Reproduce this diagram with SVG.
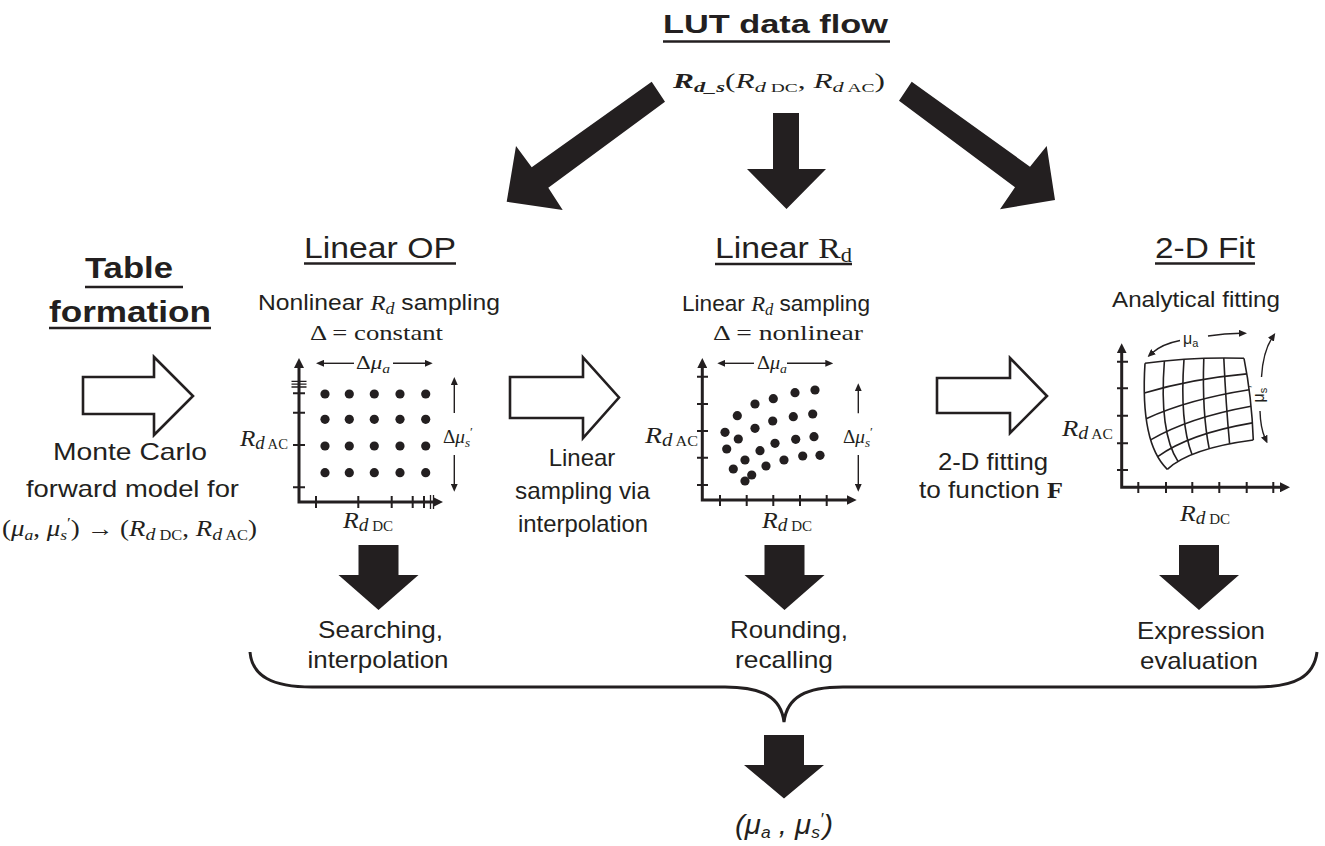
<svg xmlns="http://www.w3.org/2000/svg" width="1325" height="846" viewBox="0 0 1325 846">
<style>
.sans{font-family:"Liberation Sans",Arial,sans-serif;fill:#231f20}
.serif{font-family:"Liberation Serif","Times New Roman",serif;fill:#231f20}
.b{font-weight:bold}
.i{font-style:italic}
.blk{fill:#231f20}
.hollow{fill:#fff;stroke:#231f20;stroke-width:2.6}
.axis{fill:none;stroke:#231f20;stroke-width:3;marker-start:url(#axh);marker-end:url(#axh)}
.tick{fill:none;stroke:#231f20;stroke-width:2}
.tick2{fill:none;stroke:#231f20;stroke-width:1.3}
.thin{fill:none;stroke:#231f20;stroke-width:1.4;marker-end:url(#ah)}
.mesh{fill:none;stroke:#231f20;stroke-width:1.6}
.ul{stroke:#231f20;stroke-width:2.4}
.brace{fill:none;stroke:#231f20;stroke-width:3}
</style>
<defs>
<marker id="axh" viewBox="0 0 10 10" refX="2" refY="5" markerWidth="10" markerHeight="10" markerUnits="userSpaceOnUse" orient="auto-start-reverse"><path d="M0,0 L10,5 L0,10 z" fill="#231f20"/></marker>
<marker id="ah" viewBox="0 0 8 7" refX="2" refY="3.5" markerWidth="8" markerHeight="7" markerUnits="userSpaceOnUse" orient="auto"><path d="M0,0 L8,3.5 L0,7 z" fill="#231f20"/></marker>
</defs>
<rect width="1325" height="846" fill="#fff"/>

<g id="title">
<text class="sans b" x="663" y="33" font-size="25" textLength="225" lengthAdjust="spacingAndGlyphs">LUT data flow</text>
<line class="ul" x1="663" y1="41.5" x2="890" y2="41.5" stroke-width="3"/>
<text class="serif" x="673" y="88" font-size="21" textLength="212" lengthAdjust="spacingAndGlyphs"><tspan class="b i">R</tspan><tspan class="b i" font-size="15" dy="4">d_s</tspan><tspan dy="-4">(</tspan><tspan class="i">R</tspan><tspan class="i" font-size="15" dy="4">d</tspan><tspan font-size="13"> DC</tspan><tspan dy="-4">, </tspan><tspan class="i">R</tspan><tspan class="i" font-size="15" dy="4">d</tspan><tspan font-size="13"> AC</tspan><tspan dy="-4">)</tspan></text>
</g>

<g id="table-formation">
<text class="sans b" x="85" y="278" font-size="29" textLength="88" lengthAdjust="spacingAndGlyphs">Table</text>
<line class="ul" x1="85" y1="287" x2="183" y2="287" stroke-width="2.8"/>
<text class="sans b" x="49" y="322" font-size="29" textLength="162" lengthAdjust="spacingAndGlyphs">formation</text>
<line class="ul" x1="49" y1="328" x2="211" y2="328" stroke-width="2.8"/>
<text class="sans" x="53" y="460" font-size="24" textLength="154" lengthAdjust="spacingAndGlyphs">Monte Carlo</text>
<text class="sans" x="26" y="497" font-size="24" textLength="213" lengthAdjust="spacingAndGlyphs">forward model for</text>
<text class="serif" x="2" y="536" font-size="23" textLength="255" lengthAdjust="spacingAndGlyphs">(<tspan class="i">μ</tspan><tspan class="i" font-size="15" dy="4">a</tspan><tspan dy="-4">, </tspan><tspan class="i">μ</tspan><tspan class="i" font-size="15" dy="4">s</tspan><tspan font-size="15" dy="-12">′</tspan><tspan dy="8">) → (</tspan><tspan class="i">R</tspan><tspan class="i" font-size="17" dy="4">d</tspan><tspan font-size="14"> DC</tspan><tspan dy="-4">, </tspan><tspan class="i">R</tspan><tspan class="i" font-size="17" dy="4">d</tspan><tspan font-size="14"> AC</tspan><tspan dy="-4">)</tspan></text>
</g>

<g id="linear-op">
<text class="sans" x="304" y="258" font-size="30" textLength="152" lengthAdjust="spacingAndGlyphs">Linear OP</text>
<line class="ul" x1="304" y1="263.5" x2="456" y2="263.5" stroke-width="2"/>
<text class="sans" x="258" y="310" font-size="22" textLength="242" lengthAdjust="spacingAndGlyphs">Nonlinear <tspan class="serif i">R</tspan><tspan class="serif i" font-size="16" dy="4">d</tspan><tspan dy="-4"> sampling</tspan></text>
<text class="serif" x="310" y="340" font-size="21" textLength="133" lengthAdjust="spacingAndGlyphs">Δ = constant</text>
<path class="axis" d="M299,366 L299,502 L435,502"/>
<path class="tick" d="M293,487.3H305 M293,445H305 M293,412.7H305 M293,393.3H305 M316,496V508 M358.3,496V508 M391.7,496V508 M412.7,496V508 M424,496V508"/>
<path class="tick2" d="M291.5,387H306.5 M291.5,384.2H306.5 M291.5,381.4H306.5 M430.5,495V509 M433.5,495V509"/>
<g class="blk">
<circle cx="325" cy="394" r="4.6"/><circle cx="349.3" cy="394" r="4.6"/><circle cx="374.3" cy="394" r="4.6"/><circle cx="400" cy="394" r="4.6"/><circle cx="425.7" cy="394" r="4.6"/>
<circle cx="325" cy="419.3" r="4.6"/><circle cx="349.3" cy="419.3" r="4.6"/><circle cx="374.3" cy="419.3" r="4.6"/><circle cx="400" cy="419.3" r="4.6"/><circle cx="425.7" cy="419.3" r="4.6"/>
<circle cx="325" cy="446" r="4.6"/><circle cx="349.3" cy="446" r="4.6"/><circle cx="374.3" cy="446" r="4.6"/><circle cx="400" cy="446" r="4.6"/><circle cx="425.7" cy="446" r="4.6"/>
<circle cx="325" cy="472.7" r="4.6"/><circle cx="349.3" cy="472.7" r="4.6"/><circle cx="374.3" cy="472.7" r="4.6"/><circle cx="400" cy="472.7" r="4.6"/><circle cx="425.7" cy="472.7" r="4.6"/>
</g>
<path class="thin" d="M354,363.3 H322"/>
<path class="thin" d="M393,363.3 H426.7"/>
<text class="serif" x="356" y="368.5" font-size="19" textLength="34" lengthAdjust="spacingAndGlyphs">Δ<tspan class="i">μ</tspan><tspan class="i" font-size="13" dy="4">a</tspan></text>
<path class="thin" d="M454.3,413 V383"/>
<path class="thin" d="M454.3,455 V485.7"/>
<text class="serif" x="443" y="443" font-size="19" textLength="30" lengthAdjust="spacingAndGlyphs">Δ<tspan class="i">μ</tspan><tspan class="i" font-size="13" dy="4">s</tspan><tspan font-size="13" dy="-11">′</tspan></text>
<text class="serif" x="240" y="446" font-size="24" textLength="48" lengthAdjust="spacingAndGlyphs"><tspan class="i">R</tspan><tspan class="i" font-size="18" dy="3">d</tspan><tspan font-size="14"> AC</tspan></text>
<text class="serif" x="343" y="528" font-size="24" textLength="50" lengthAdjust="spacingAndGlyphs"><tspan class="i">R</tspan><tspan class="i" font-size="18" dy="3">d</tspan><tspan font-size="14"> DC</tspan></text>
</g>

<g id="linear-rd">
<text class="sans" x="715" y="258" font-size="30" textLength="137" lengthAdjust="spacingAndGlyphs">Linear <tspan class="serif">R</tspan><tspan class="serif" font-size="20" dy="4">d</tspan></text>
<line class="ul" x1="715" y1="264" x2="852" y2="264" stroke-width="2"/>
<text class="sans" x="682" y="311" font-size="22" textLength="188" lengthAdjust="spacingAndGlyphs">Linear <tspan class="serif i">R</tspan><tspan class="serif i" font-size="16" dy="4">d</tspan><tspan dy="-4"> sampling</tspan></text>
<text class="serif" x="713" y="340" font-size="21" textLength="150" lengthAdjust="spacingAndGlyphs">Δ = nonlinear</text>
<path class="axis" d="M702.3,366 L702.3,500 L848.7,500"/>
<path class="tick" d="M697,376.7H708 M697,404H708 M697,431H708 M697,457.7H708 M697,485H708 M720,495V506 M746.7,495V506 M773.3,495V506 M800,495V506 M826.7,495V506"/>
<g class="blk">
<circle cx="815" cy="390" r="4.6"/><circle cx="795" cy="392.7" r="4.6"/><circle cx="773.3" cy="398.7" r="4.6"/><circle cx="755" cy="404" r="4.6"/><circle cx="737.3" cy="415.7" r="4.6"/>
<circle cx="812.7" cy="414" r="4.6"/><circle cx="793.3" cy="416.7" r="4.6"/><circle cx="772.7" cy="421" r="4.6"/><circle cx="755" cy="428.3" r="4.6"/><circle cx="725" cy="432.3" r="4.6"/><circle cx="738.3" cy="439" r="4.6"/>
<circle cx="814" cy="436.7" r="4.6"/><circle cx="795.7" cy="439.3" r="4.6"/><circle cx="775" cy="443.3" r="4.6"/><circle cx="726.7" cy="449" r="4.6"/><circle cx="760" cy="450.7" r="4.6"/><circle cx="745" cy="460" r="4.6"/>
<circle cx="820" cy="455.3" r="4.6"/><circle cx="802.7" cy="456" r="4.6"/><circle cx="784" cy="460" r="4.6"/><circle cx="733.3" cy="469" r="4.6"/><circle cx="766" cy="466" r="4.6"/><circle cx="751.7" cy="475" r="4.6"/><circle cx="745" cy="481" r="4.6"/>
</g>
<path class="thin" d="M754,363.3 H723.3"/>
<path class="thin" d="M787,363.3 H827.3"/>
<text class="serif" x="757" y="368.5" font-size="19" textLength="30" lengthAdjust="spacingAndGlyphs">Δ<tspan class="i">μ</tspan><tspan class="i" font-size="13" dy="4">a</tspan></text>
<path class="thin" d="M858.3,413.3 V389.3"/>
<path class="thin" d="M858.3,455 V485.7"/>
<text class="serif" x="843" y="443" font-size="19" textLength="30" lengthAdjust="spacingAndGlyphs">Δ<tspan class="i">μ</tspan><tspan class="i" font-size="13" dy="4">s</tspan><tspan font-size="13" dy="-11">′</tspan></text>
<text class="serif" x="645" y="443" font-size="24" textLength="53" lengthAdjust="spacingAndGlyphs"><tspan class="i">R</tspan><tspan class="i" font-size="18" dy="3">d</tspan><tspan font-size="14"> AC</tspan></text>
<text class="serif" x="762" y="528" font-size="24" textLength="50" lengthAdjust="spacingAndGlyphs"><tspan class="i">R</tspan><tspan class="i" font-size="18" dy="3">d</tspan><tspan font-size="14"> DC</tspan></text>
</g>

<g id="fit-2d">
<text class="sans" x="1155" y="258" font-size="30" textLength="100" lengthAdjust="spacingAndGlyphs">2-D Fit</text>
<line class="ul" x1="1155" y1="263.5" x2="1255" y2="263.5" stroke-width="2"/>
<text class="sans" x="1112" y="307" font-size="22" textLength="168" lengthAdjust="spacingAndGlyphs">Analytical fitting</text>
<path class="axis" d="M1121.7,351.3 L1121.7,487.3 L1282,487.3"/>
<path class="tick" d="M1117,361.7H1128 M1117,388.3H1128 M1117,415.7H1128 M1117,443.3H1128 M1117,470H1128 M1138.3,482V493 M1166,482V493 M1192.3,482V493 M1219.3,482V493 M1246.7,482V493 M1273.3,482V493"/>
<g class="mesh">
<path d="M1145,363.3 Q1140,443.3 1167.3,469.3"/>
<path d="M1164.4,361 Q1158.9,432.3 1178,461.4"/>
<path d="M1184,359.3 Q1179.5,422.2 1192,454.5"/>
<path d="M1203.8,358.3 Q1201.9,412.8 1209.2,448.7"/>
<path d="M1223.8,358 Q1225.9,404.3 1229.6,443.8"/>
<path d="M1244,358.3 Q1251.7,396.7 1253.3,440"/>
<path d="M1145,363.3 Q1193.3,356.7 1244,358.3"/>
<path d="M1144.3,393.1 Q1190.6,378.9 1246.8,373.9"/>
<path d="M1146.2,418.7 Q1188.9,399.2 1249.2,389.8"/>
<path d="M1150.6,439.9 Q1188.3,417.6 1251,406.2"/>
<path d="M1157.7,456.7 Q1188.7,433.9 1252.4,422.9"/>
<path d="M1167.3,469.3 Q1190,448.3 1253.3,440"/>
</g>
<path class="thin" d="M1180,340.5 Q1162,344 1152,353"/>
<path class="thin" d="M1208,336 Q1225,333.5 1241,333.3"/>
<text class="sans" x="1183" y="344" font-size="16">μ<tspan font-size="11" dy="3">a</tspan></text>
<path class="thin" d="M1261.5,377 Q1263,352 1272,338"/>
<path class="thin" d="M1260,411 Q1260.5,428 1265,438"/>
<text class="sans" transform="translate(1264,394) rotate(-90)" text-anchor="middle" font-size="16">μ<tspan font-size="11" dy="3">s</tspan><tspan font-size="11" dy="-10">′</tspan></text>
<text class="serif" x="1062" y="436" font-size="24" textLength="51" lengthAdjust="spacingAndGlyphs"><tspan class="i">R</tspan><tspan class="i" font-size="18" dy="3">d</tspan><tspan font-size="14"> AC</tspan></text>
<text class="serif" x="1180" y="521" font-size="24" textLength="50" lengthAdjust="spacingAndGlyphs"><tspan class="i">R</tspan><tspan class="i" font-size="18" dy="3">d</tspan><tspan font-size="14"> DC</tspan></text>
</g>

<g id="step-labels">
<text class="sans" x="582" y="466" font-size="24" text-anchor="middle">Linear</text>
<text class="sans" x="515" y="499" font-size="24" textLength="135" lengthAdjust="spacingAndGlyphs">sampling via</text>
<text class="sans" x="518" y="532" font-size="24" textLength="130" lengthAdjust="spacingAndGlyphs">interpolation</text>
<text class="sans" x="938" y="470" font-size="24" textLength="110" lengthAdjust="spacingAndGlyphs">2-D fitting</text>
<text class="sans" x="919" y="498" font-size="24" textLength="144" lengthAdjust="spacingAndGlyphs">to function <tspan class="serif b">F</tspan></text>
</g>

<g id="outputs">
<text class="sans" x="318" y="638" font-size="24" textLength="125" lengthAdjust="spacingAndGlyphs">Searching,</text>
<text class="sans" x="307.5" y="668" font-size="24" textLength="141" lengthAdjust="spacingAndGlyphs">interpolation</text>
<text class="sans" x="730" y="638" font-size="24" textLength="118" lengthAdjust="spacingAndGlyphs">Rounding,</text>
<text class="sans" x="735" y="668" font-size="24" textLength="98" lengthAdjust="spacingAndGlyphs">recalling</text>
<text class="sans" x="1137" y="639" font-size="24" textLength="128" lengthAdjust="spacingAndGlyphs">Expression</text>
<text class="sans" x="1140" y="669" font-size="24" textLength="118" lengthAdjust="spacingAndGlyphs">evaluation</text>
</g>

<g id="result">
<text class="sans i" x="735" y="834" font-size="27" textLength="98" lengthAdjust="spacingAndGlyphs">(μ<tspan font-size="16" dy="4">a</tspan><tspan dy="-4"> , μ</tspan><tspan font-size="16" dy="4">s</tspan><tspan font-size="16" dy="-13">′</tspan><tspan dy="9">)</tspan></text>
</g>

<g id="connectors">
<polygon class="blk" points="651.7,81.7 665,101.7 548.3,187.7 562.7,210 506.7,201.7 516,146 531.7,167.3"/>
<polygon class="blk" points="773,113 799,113 799,169 826,169 786.5,209 747,169 773,169"/>
<polygon class="blk" points="911.7,81.7 899,100.7 1015,187.3 1000,209.3 1055,200 1046.7,146 1030,166.7"/>
<polygon class="hollow" points="83,377 154,377 154,357 193,396 154,435 154,414 83,414"/>
<polygon class="hollow" points="510,377 583,377 583,357.5 619,397.5 583,438 583,418 510,418"/>
<polygon class="hollow" points="937,378 1010,378 1010,358 1047,396 1010,433 1010,413 937,413"/>
<polygon class="blk" points="358.5,545 398.5,545 398.5,575 418.5,575 378.5,610 338.5,575 358.5,575"/>
<polygon class="blk" points="764.5,545 804.5,545 804.5,575 824.5,575 784.5,610 744.5,575 764.5,575"/>
<polygon class="blk" points="1179,545 1219,545 1219,575 1239,575 1199,610 1159,575 1179,575"/>
<path class="brace" d="M250,652 C252,676 272,687 312,687 L725,687 C762,687 781,697 784,722 C787,697 806,687 843,687 L1256,687 C1296,687 1314,676 1317,652"/>
<polygon class="blk" points="764,735 804,735 804,765 824,765 784,798.5 744,765 764,765"/>
</g>
</svg>
